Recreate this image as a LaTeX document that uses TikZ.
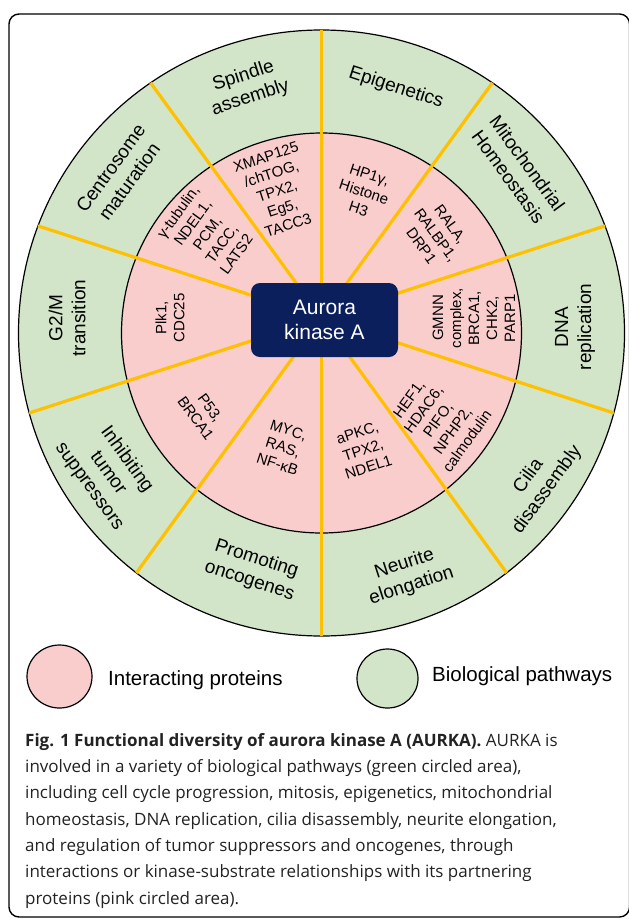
\documentclass[tikz,border=0pt]{standalone}
\usepackage{fontspec}
\setmainfont{Liberation Sans}
\newfontfamily\capfont{Open Sans}
\usetikzlibrary{shapes.geometric}
\definecolor{ringgreen}{HTML}{D3E5C9}
\definecolor{ringpink}{HTML}{FACDCD}
\definecolor{spoke}{HTML}{FFC000}
\definecolor{boxnavy}{HTML}{0A1F5C}
\definecolor{captext}{HTML}{222222}
\begin{document}
\begin{tikzpicture}[x=1pt,y=1pt,
  glabel/.style={align=center, font=\fontsize{19}{23}\selectfont, inner sep=0pt},
  plabel/.style={align=center, font=\fontsize{15}{18}\selectfont, inner sep=0pt},
  spokeline/.style={draw=spoke, line width=3.2pt},
  ringline/.style={draw=black, line width=1.2pt},
  legendtext/.style={anchor=west, font=\fontsize{20.5}{24}\selectfont, inner sep=0pt},
  legendmark/.style={ellipse, draw=black, line width=1.2pt, inner sep=0pt}
  ]
\useasboundingbox (0,0) rectangle (629,-919);
\draw[line width=1.4pt, rounded corners=10pt] (9,-14) rectangle (629.6,-917);
% rings
\coordinate (C) at (321.5,-333);
\coordinate (L) at (321.5,-318);
\fill[ringgreen] (C) circle (303);
\fill[ringpink] (C) circle (200);
\draw[ringline] (C) circle (303);
\draw[ringline] (C) circle (200);
% spokes
\begin{scope}
  \clip (C) circle (303);
  \foreach \a in {18,54,90,126,162,198,234,270,306,342}
    \draw[spokeline] (L) -- ++(\a:340);
\end{scope}
% centre
\node[fill=boxnavy, rounded corners=9pt, minimum width=147pt, minimum height=74pt,
      text=white, align=center, inner sep=0pt, font=\fontsize{21}{25}\selectfont]
      (aurka) at (324.5,-320) {Aurora\\kinase A};
% pathways (green)
\node[glabel, rotate=18]  (spindle) at (247,-87)  {Spindle\\assembly};
\node[glabel, rotate=-18] (epi)     at (396,-88)  {Epigenetics};
\node[glabel, rotate=-54] (mito)    at (518,-170) {Mitochondrial\\Homeostasis};
\node[glabel, rotate=90]  (dna)     at (575,-327) {DNA\\replication};
\node[glabel, rotate=54]  (cilia)   at (538,-483) {Cilia\\disassembly};
\node[glabel, rotate=18]  (neurite) at (408,-575) {Neurite\\elongation};
\node[glabel, rotate=-18] (onco)    at (253,-570) {Promoting\\oncogenes};
\node[glabel, rotate=-54] (supp)    at (108,-473) {Inhibiting\\tumor\\suppressors};
\node[glabel, rotate=90]  (g2m)     at (67,-318)  {G2/M\\transition};
\node[glabel, rotate=54]  (centro)  at (120,-175) {Centrosome\\maturation};
% proteins (pink)
\node[plabel, rotate=54]  (pcentro)  at (207,-233) {γ-tubulin,\\NDEL1,\\PCM,\\TACC,\\LATS2};
\node[plabel, rotate=18]  (pspindle) at (277,-191) {XMAP125\\/chTOG,\\TPX2,\\Eg5,\\TACC3};
\node[plabel, rotate=-18] (pepi)     at (364,-192) {HP1γ,\\Histone\\H3};
\node[plabel, rotate=-54] (pmito)    at (436,-235) {RALA,\\RALBP1,\\DRP1};
\node[plabel, rotate=90]  (pdna)     at (474,-318) {GMNN\\complex,\\BRCA1,\\CHK2,\\PARP1};
\node[plabel, rotate=54]  (pcilia)   at (438,-420) {HEF1,\\HDAC6,\\PIFO,\\NPHP2,\\calmodulin};
\node[plabel, rotate=18]  (pneurite) at (363,-450) {aPKC,\\TPX2,\\NDEL1};
\node[plabel, rotate=-18] (ponco)    at (283,-447) {MYC,\\RAS,\\NF-κB};
\node[plabel, rotate=-54] (psupp)    at (203,-413) {P53,\\BRCA1};
\node[plabel, rotate=90]  (pg2m)     at (170,-318) {Plk1,\\CDC25};
% legend
\node[legendmark, fill=ringpink, minimum width=65pt, minimum height=63pt] (legpink) at (59.5,-676.5) {};
\node[legendtext] (legpinktext) at (108,-680) {Interacting proteins};
\node[legendmark, fill=ringgreen, minimum width=61pt, minimum height=59pt] (leggreen) at (387.5,-678.5) {};
\node[legendtext] (leggreentext) at (432,-676) {Biological pathways};
% caption
\node[anchor=north west, align=left, inner sep=0pt, text=captext,
      font=\capfont\fontsize{17}{26.3}\selectfont] (caption) at (25,-733)
  {\textbf{Fig. 1 Functional diversity of aurora kinase A (AURKA).} AURKA is\\
   involved in a variety of biological pathways (green circled area),\\
   including cell cycle progression, mitosis, epigenetics, mitochondrial\\
   homeostasis, DNA replication, cilia disassembly, neurite elongation,\\
   and regulation of tumor suppressors and oncogenes, through\\
   interactions or kinase-substrate relationships with its partnering\\
   proteins (pink circled area).};
\end{tikzpicture}
\end{document}
